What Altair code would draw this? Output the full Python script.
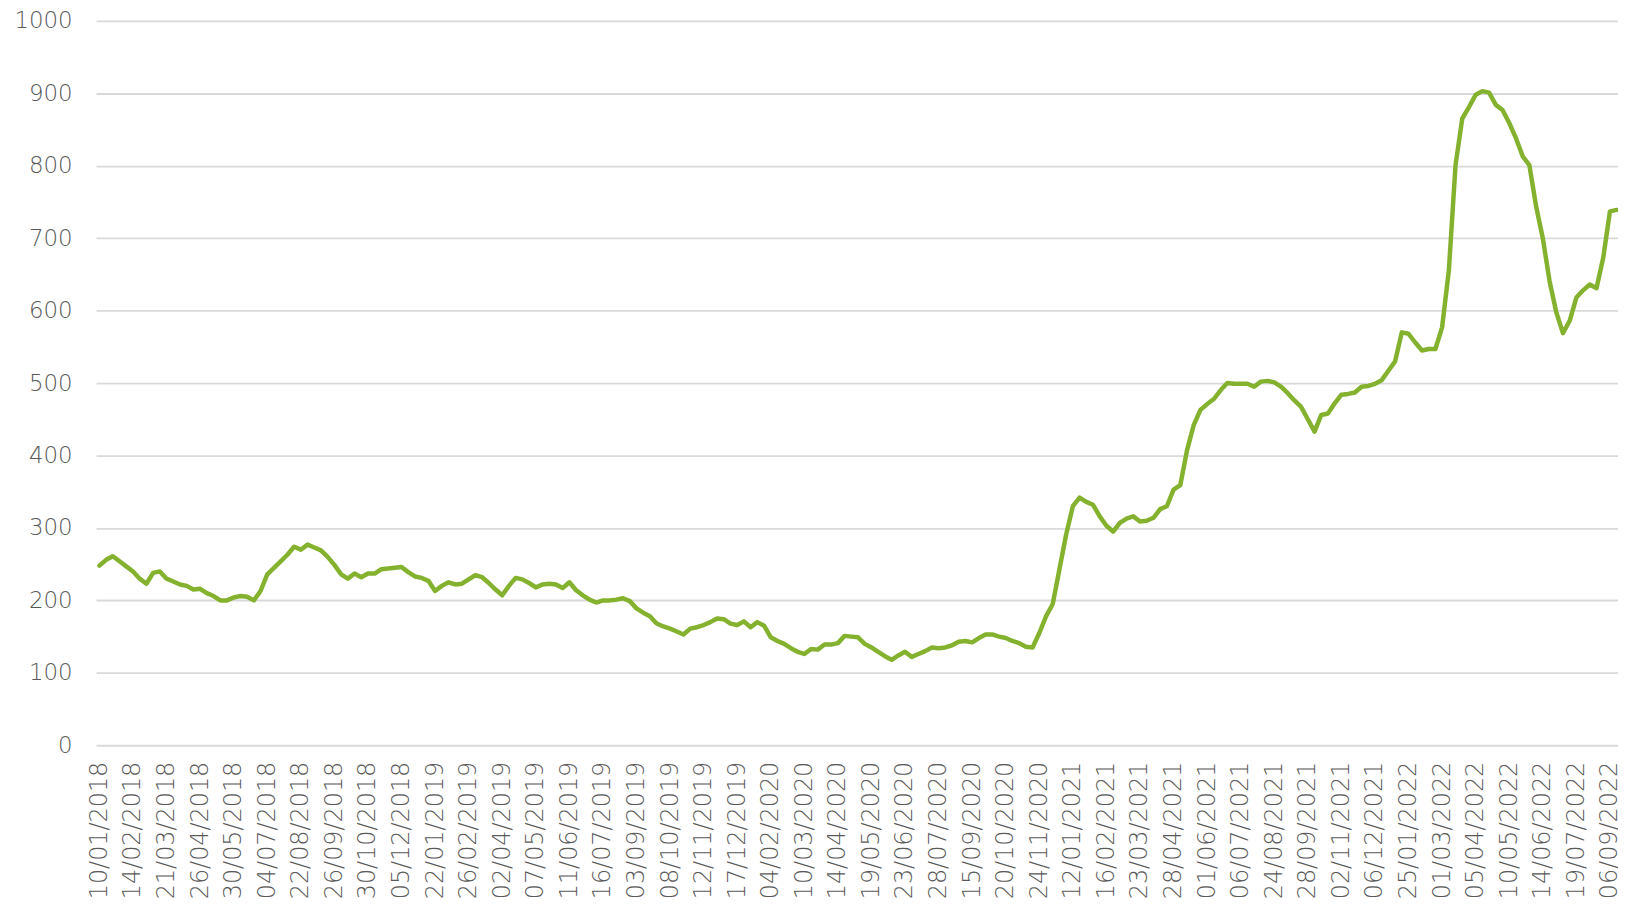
import altair as alt
import pandas as pd

# Tick labels shown on the x axis (one every 5 weekly observations)
tick_labels = [
    "10/01/2018", "14/02/2018", "21/03/2018", "26/04/2018", "30/05/2018",
    "04/07/2018", "22/08/2018", "26/09/2018", "30/10/2018", "05/12/2018",
    "22/01/2019", "26/02/2019", "02/04/2019", "07/05/2019", "11/06/2019",
    "16/07/2019", "03/09/2019", "08/10/2019", "12/11/2019", "17/12/2019",
    "04/02/2020", "10/03/2020", "14/04/2020", "19/05/2020", "23/06/2020",
    "28/07/2020", "15/09/2020", "20/10/2020", "24/11/2020", "12/01/2021",
    "16/02/2021", "23/03/2021", "28/04/2021", "01/06/2021", "06/07/2021",
    "24/08/2021", "28/09/2021", "02/11/2021", "06/12/2021", "25/01/2022",
    "01/03/2022", "05/04/2022", "10/05/2022", "14/06/2022", "19/07/2022",
    "06/09/2022",
]
LABEL_EVERY = 5

# Series values (one per observation)
values = [
    248, 256, 261, 254, 247, 240, 230, 223, 238, 240,
    230, 226, 222, 220, 215, 216, 210, 206, 200, 200,
    204, 206, 205, 200, 213, 236, 245, 254, 263, 274,
    270, 277, 273, 269, 260, 249, 236, 230, 237, 232,
    237, 237, 243, 244, 245, 246, 239, 233, 231, 227,
    213, 220, 225, 222, 223, 229, 235, 232, 224, 215,
    207, 220, 231, 229, 224, 218, 222, 223, 222, 217,
    225, 214, 207, 201, 197, 200, 200, 201, 203, 199,
    189, 183, 178, 168, 164, 161, 157, 153, 161, 163,
    166, 170, 175, 174, 168, 166, 171, 163, 170, 165,
    149, 144, 140, 134, 129, 126, 133, 132, 139, 139,
    141, 151, 150, 149, 140, 135, 129, 123, 118, 124,
    129, 122, 126, 130, 135, 134, 135, 138, 143, 144,
    142, 148, 153, 153, 150, 148, 144, 141, 136, 135,
    155, 178, 195, 243, 291, 330, 342, 336, 332, 316,
    303, 295, 307, 313, 316, 309, 310, 314, 326, 330,
    353, 359, 407, 442, 463, 471, 478, 490, 500, 499,
    499, 499, 495, 502, 503, 501, 495, 486, 476, 467,
    450, 433, 456, 458, 472, 484, 485, 487, 495, 496,
    499, 504, 517, 530, 570, 568, 556, 545, 547, 547,
    577, 655, 801, 865, 881, 898, 903, 901, 884, 877,
    859, 838, 813, 801, 744, 700, 641, 598, 569, 586,
    618, 628, 636, 631, 673, 737, 739,
]

y_ticks = list(range(0, 1001, 100))

df = pd.DataFrame({"idx": list(range(len(values))), "value": values})

label_js = "[" + ",".join("'" + s + "'" for s in tick_labels) + "]"
tick_positions = [k * LABEL_EVERY for k in range(len(tick_labels))]

FONT = "DejaVu Sans"
TEXT_COLOR = "#595959"

chart = (
    alt.Chart(df)
    .mark_line(color="#84B12E", strokeWidth=4.5, clip=True, strokeJoin="round", strokeCap="round")
    .encode(
        x=alt.X(
            "idx:Q",
            scale=alt.Scale(domain=[-0.5, 226.2], nice=False, zero=False),
            axis=alt.Axis(
                values=tick_positions,
                labelExpr=label_js + "[round(datum.value / " + str(LABEL_EVERY) + ")]",
                labelAngle=270,
                labelOverlap=False,
                labelPadding=16,
                labelFontSize=24,
                labelFont=FONT,
                labelFontWeight=200,
                labelColor=TEXT_COLOR,
                grid=False,
                ticks=False,
                domain=False,
                title=None,
            ),
        ),
        y=alt.Y(
            "value:Q",
            scale=alt.Scale(domain=[0, 1000], nice=False),
            axis=alt.Axis(
                values=y_ticks,
                format="d",
                grid=True,
                gridColor="#d9d9d9",
                gridWidth=1.8,
                ticks=False,
                domain=False,
                labelPadding=24,
                labelFontSize=23,
                labelFont=FONT,
                labelFontWeight=200,
                labelColor=TEXT_COLOR,
                title=None,
            ),
        ),
    )
    .properties(
        width=1529.5,
        height=728,
        autosize=alt.AutoSizeParams(type="none"),
        padding={"left": 88.5, "top": 10.7, "right": 0, "bottom": 159.3},
    )
    .configure_view(stroke=None)
)

chart.save("out.html", embed_options={"renderer": "svg", "actions": False})
